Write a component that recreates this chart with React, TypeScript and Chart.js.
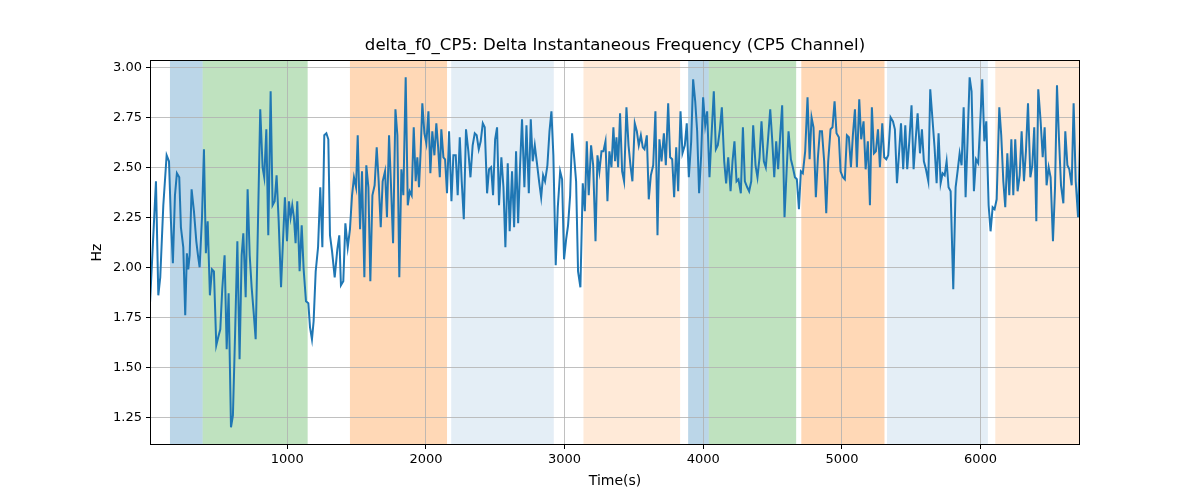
import React, { useEffect, useRef } from 'react';
import { Chart, registerables } from 'chart.js';
Chart.register(...registerables);

const times = [10,53,70,84,106,130,147,161,175,190,204,221,233,250,264,276,286,296,310,327,344,356,368,385,399,413,426,442,457,471,488,502,517,531,548,563,577,594,608,623,640,656,671,683,700,714,729,743,757,772,805,822,834,849,863,880,894,909,923,938,955,969,983,998,1012,1024,1036,1048,1060,1072,1089,1104,1118,1135,1152,1164,1178,1190,1205,1222,1238,1253,1267,1282,1296,1308,1323,1342,1361,1375,1387,1404,1419,1436,1452,1467,1481,1496,1508,1525,1539,1556,1570,1585,1599,1614,1630,1645,1659,1674,1688,1705,1719,1734,1748,1763,1780,1794,1808,1823,1837,1854,1869,1883,1897,1912,1926,1938,1950,1962,1974,1989,2003,2018,2032,2046,2061,2075,2088,2100,2111,2126,2138,2152,2167,2184,2198,2215,2229,2244,2258,2273,2289,2306,2321,2337,2352,2366,2381,2395,2410,2424,2441,2455,2470,2484,2499,2513,2527,2544,2559,2573,2590,2604,2621,2636,2650,2665,2679,2693,2710,2725,2742,2756,2770,2785,2799,2816,2831,2845,2859,2876,2891,2905,2919,2936,2951,2968,2982,2996,3011,3025,3040,3054,3069,3083,3097,3114,3131,3146,3160,3174,3191,3206,3223,3237,3251,3266,3280,3295,3309,3323,3338,3352,3364,3374,3386,3400,3415,3429,3446,3461,3475,3489,3506,3521,3535,3550,3564,3576,3593,3607,3622,3639,3655,3670,3684,3699,3716,3730,3747,3761,3776,3790,3805,3819,3836,3850,3867,3881,3896,3913,3927,3942,3956,3970,3985,3999,4014,4028,4045,4059,4076,4091,4105,4120,4134,4151,4165,4180,4197,4211,4225,4240,4254,4271,4286,4300,4317,4331,4346,4360,4377,4391,4406,4420,4437,4451,4466,4483,4497,4512,4526,4540,4555,4569,4586,4601,4615,4632,4646,4661,4675,4690,4704,4718,4735,4752,4767,4781,4795,4812,4827,4841,4856,4872,4887,4901,4918,4932,4947,4961,4978,4990,5007,5021,5036,5050,5065,5079,5094,5108,5125,5139,5156,5171,5187,5202,5216,5231,5245,5260,5274,5291,5305,5320,5334,5351,5368,5382,5397,5411,5426,5442,5457,5471,5486,5502,5517,5531,5546,5563,5577,5591,5606,5623,5637,5652,5668,5683,5697,5712,5726,5741,5755,5769,5784,5803,5820,5834,5849,5863,5878,5892,5906,5921,5935,5952,5967,5983,5998,6012,6027,6041,6058,6072,6087,6101,6116,6135,6149,6164,6178,6193,6207,6222,6236,6250,6267,6282,6296,6313,6327,6342,6359,6373,6387,6402,6416,6433,6448,6462,6476,6491,6505,6522,6537,6551,6565,6580,6597,6611,6626,6640,6657,6671,6686,6703,6717];

const values = [1.82,2.43,1.86,1.95,2.31,2.56,2.53,2.23,2.02,2.36,2.47,2.45,2.20,2.10,1.76,2.07,1.99,2.06,2.39,2.28,2.13,2.06,2.00,2.25,2.59,2.07,2.23,1.86,1.99,1.98,1.61,1.65,1.69,1.89,2.06,1.59,1.87,1.20,1.26,1.65,2.13,1.54,2.06,2.17,1.85,2.39,2.06,1.90,1.78,1.64,2.79,2.50,2.45,2.69,2.16,2.88,2.31,2.33,2.46,2.23,1.90,2.13,2.35,2.13,2.33,2.25,2.31,2.25,2.12,2.33,1.98,2.21,1.99,1.83,1.82,1.70,1.64,1.73,1.98,2.10,2.40,2.10,2.66,2.67,2.64,2.16,2.08,1.95,2.09,2.16,1.91,1.93,2.22,2.10,2.19,2.36,2.45,2.40,2.66,2.19,2.48,1.95,2.51,2.40,1.93,2.36,2.41,2.60,2.43,2.20,2.43,2.48,2.25,2.66,2.41,2.12,2.79,2.66,1.95,2.49,2.36,2.95,2.31,2.38,2.36,2.70,2.43,2.55,2.40,2.58,2.82,2.67,2.62,2.78,2.47,2.68,2.56,2.72,2.60,2.45,2.69,2.55,2.54,2.37,2.68,2.33,2.56,2.56,2.36,2.65,2.43,2.24,2.69,2.58,2.45,2.61,2.67,2.66,2.59,2.63,2.72,2.70,2.37,2.49,2.50,2.36,2.64,2.70,2.31,2.55,2.40,2.10,2.52,2.18,2.48,2.20,2.58,2.22,2.51,2.74,2.40,2.71,2.37,2.74,2.53,2.61,2.53,2.43,2.35,2.46,2.43,2.51,2.68,2.78,2.56,2.01,2.30,2.48,2.44,2.04,2.14,2.21,2.36,2.67,2.55,2.43,1.98,1.90,2.42,2.28,2.63,2.36,2.61,2.51,2.13,2.56,2.48,2.58,2.58,2.63,2.33,2.58,2.50,2.70,2.53,2.65,2.50,2.77,2.48,2.43,2.80,2.61,2.51,2.43,2.72,2.68,2.61,2.66,2.60,2.59,2.66,2.34,2.46,2.51,2.78,2.16,2.64,2.53,2.67,2.51,2.82,2.55,2.54,2.35,2.60,2.38,2.78,2.57,2.61,2.72,2.45,2.63,2.94,2.83,2.68,2.37,2.56,2.85,2.71,2.78,2.45,2.65,2.88,2.59,2.61,2.69,2.80,2.53,2.42,2.55,2.38,2.53,2.63,2.43,2.44,2.37,2.70,2.43,2.40,2.38,2.43,2.71,2.51,2.45,2.55,2.73,2.53,2.50,2.63,2.79,2.64,2.45,2.63,2.49,2.66,2.81,2.25,2.48,2.68,2.54,2.50,2.45,2.44,2.29,2.48,2.47,2.58,2.85,2.54,2.75,2.70,2.35,2.55,2.68,2.68,2.53,2.27,2.53,2.69,2.70,2.83,2.67,2.65,2.48,2.45,2.44,2.66,2.65,2.50,2.66,2.79,2.50,2.84,2.64,2.73,2.49,2.63,2.31,2.80,2.57,2.58,2.69,2.50,2.72,2.55,2.54,2.56,2.75,2.73,2.69,2.42,2.56,2.72,2.49,2.71,2.49,2.63,2.81,2.49,2.63,2.77,2.57,2.69,2.53,2.49,2.43,2.89,2.75,2.60,2.42,2.67,2.42,2.47,2.46,2.53,2.40,2.38,1.89,2.40,2.48,2.57,2.51,2.80,2.35,2.63,2.95,2.88,2.38,2.54,2.52,2.73,2.94,2.63,2.73,2.31,2.18,2.30,2.29,2.34,2.80,2.66,2.43,2.30,2.57,2.36,2.64,2.36,2.64,2.38,2.46,2.68,2.43,2.58,2.82,2.45,2.51,2.70,2.23,2.89,2.73,2.55,2.70,2.41,2.50,2.45,2.13,2.40,2.91,2.65,2.41,2.32,2.68,2.51,2.49,2.41,2.82,2.43,2.25,2.63];

const xTickValues = [1000, 2000, 3000, 4000, 5000, 6000];
const yTickValues = [1.25, 1.5, 1.75, 2.0, 2.25, 2.5, 2.75, 3.0];

const spanStarts = [154, 390, 1452, 2182, 3136, 3891, 4040, 4707, 5325, 6106];
const spanEnds = [390, 1147, 2152, 2922, 3833, 4040, 4670, 5307, 6053, 6800];
const spanColors = [
  'rgba(31,119,180,0.3)', 'rgba(44,160,44,0.3)', 'rgba(255,127,14,0.3)', 'rgba(31,119,180,0.12)', 'rgba(255,127,14,0.16)',
  'rgba(31,119,180,0.3)', 'rgba(44,160,44,0.3)', 'rgba(255,127,14,0.3)', 'rgba(31,119,180,0.12)', 'rgba(255,127,14,0.16)',
];

const titleText = 'delta_f0_CP5: Delta Instantaneous Frequency (CP5 Channel)';
const xLabel = 'Time(s)';
const yLabel = 'Hz';

export default function App() {
  const ref = useRef<HTMLCanvasElement>(null);
  useEffect(() => {
    document.body.style.margin = '0';
    const family = "'DejaVu Sans', sans-serif";
    const deco = {
      id: 'deco',
      beforeDraw(chart: any) {
        const { ctx, chartArea: a, scales } = chart;
        const x = scales.x;
        ctx.save();
        ctx.fillStyle = '#ffffff';
        ctx.fillRect(0, 0, chart.width, chart.height);
        for (let i = 0; i < spanStarts.length; i++) {
          const l = Math.max(a.left, x.getPixelForValue(spanStarts[i]));
          const r = Math.min(a.right, x.getPixelForValue(spanEnds[i]));
          ctx.fillStyle = spanColors[i];
          ctx.fillRect(l, a.top, r - l, a.bottom - a.top);
        }
        ctx.restore();
      },
      afterDraw(chart: any) {
        const { ctx, chartArea: a } = chart;
        ctx.save();
        ctx.strokeStyle = '#000';
        ctx.lineWidth = 1;
        ctx.strokeRect(Math.round(a.left) + 0.5, Math.round(a.top) + 0.5, Math.round(a.right - a.left) - 1, Math.round(a.bottom - a.top) - 1);
        ctx.fillStyle = '#000';
        ctx.textAlign = 'center';
        ctx.textBaseline = 'middle';
        ctx.font = `16.6px ${family}`;
        ctx.fillText(titleText, (a.left + a.right) / 2, 46);
        ctx.font = `14px ${family}`;
        ctx.fillText(xLabel, (a.left + a.right) / 2, 481);
        ctx.translate(97, (a.top + a.bottom) / 2);
        ctx.rotate(-Math.PI / 2);
        ctx.fillText(yLabel, 0, 0);
        ctx.restore();
      },
    };
    const chart = new Chart(ref.current as HTMLCanvasElement, {
      type: 'line',
      data: {
        datasets: [{
          data: times.map((t, i) => ({ x: t, y: values[i] })),
          borderColor: '#1f77b4',
          borderWidth: 2,
          pointRadius: 0,
          tension: 0,
          fill: false,
        }],
      },
      options: {
        animation: false,
        responsive: false,
        layout: { padding: { left: 0, right: 120, top: 60, bottom: 0 } },
        plugins: { legend: { display: false }, tooltip: { enabled: false }, title: { display: false } },
        scales: {
          x: {
            type: 'linear',
            min: 10,
            max: 6717,
            afterBuildTicks: (s: any) => { s.ticks = xTickValues.map((v) => ({ value: v })); },
            afterFit: (s: any) => { s.height = 55; },
            grid: { color: '#b0b0b0', lineWidth: 0.8, tickColor: '#000', tickLength: 4, tickWidth: 1 },
            border: { display: false },
            ticks: { color: '#000', font: { family, size: 13 }, padding: 3, maxRotation: 0, autoSkip: false, callback: (v: any) => String(v) },
          },
          y: {
            type: 'linear',
            min: 1.1115,
            max: 3.0365,
            afterBuildTicks: (s: any) => { s.ticks = yTickValues.map((v) => ({ value: v })); },
            afterFit: (s: any) => { s.width = 150; },
            grid: { color: '#b0b0b0', lineWidth: 0.8, tickColor: '#000', tickLength: 4, tickWidth: 1 },
            border: { display: false },
            ticks: { color: '#000', font: { family, size: 13 }, padding: 4, autoSkip: false, callback: (v: any) => Number(v).toFixed(2) },
          },
        },
      },
      plugins: [deco],
    } as any);
    return () => chart.destroy();
  }, []);
  return <canvas ref={ref} width={1200} height={500} style={{ display: 'block' }} />;
}
